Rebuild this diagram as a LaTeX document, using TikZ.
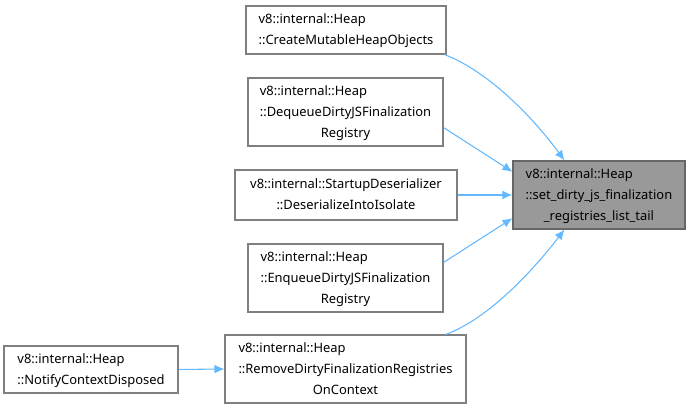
\documentclass[tikz,border=0pt]{standalone}
\usepackage{fontspec}
\setmainfont{Noto Sans}
\usepackage{tikz}
\usetikzlibrary{arrows.meta, positioning}
\definecolor{edgeblue}{HTML}{63B8FF}
\definecolor{boxgray}{HTML}{7F7F7F}
\definecolor{hlgray}{HTML}{999999}
\newcommand{\fnlabel}[1]{\begin{tabular}{@{}l@{}}#1\end{tabular}}
\newcommand{\lastc}[1]{\multicolumn{1}{@{}c@{}}{#1}}

\begin{document}
\begin{tikzpicture}[x=0.75pt, y=-0.75pt,
  fn/.style={draw=boxgray, fill=white, inner sep=0pt, line width=0.8pt,
             font=\fontsize{9.7pt}{15.75pt}\selectfont},
  call/.style={edgeblue, line width=0.8pt, -{Latex[length=7.5pt,width=6.5pt]}}]
  \useasboundingbox (0,0) rectangle (690,409);
  % the function whose callers are shown
  \node[fn, fill=hlgray, draw=boxgray!80!black, minimum width=129pt, minimum height=51pt]
      (target) at (599,195)
      {\fnlabel{v8::internal::Heap\\::set\_dirty\_js\_finalization\\\lastc{\_registries\_list\_tail}}};
  % callers
  \node[fn, minimum width=150pt, minimum height=36pt] (create) at (346,30)
      {\fnlabel{v8::internal::Heap\\\lastc{::CreateMutableHeapObjects}}};
  \node[fn, minimum width=146.25pt, minimum height=51pt] (dequeue) at (345.5,112)
      {\fnlabel{v8::internal::Heap\\::DequeueDirtyJSFinalization\\\lastc{Registry}}};
  \node[fn, minimum width=166.5pt, minimum height=37.5pt] (startup) at (346,195)
      {\fnlabel{v8::internal::StartupDeserializer\\\lastc{::DeserializeIntoIsolate}}};
  \node[fn, minimum width=146.25pt, minimum height=51pt] (enqueue) at (345.5,278)
      {\fnlabel{v8::internal::Heap\\::EnqueueDirtyJSFinalization\\\lastc{Registry}}};
  \node[fn, minimum width=180.75pt, minimum height=51pt] (remove) at (345.5,369)
      {\fnlabel{v8::internal::Heap\\::RemoveDirtyFinalizationRegistries\\\lastc{OnContext}}};
  \node[fn, minimum width=130.5pt, minimum height=35.25pt] (notify) at (91,369.5)
      {\fnlabel{v8::internal::Heap\\\lastc{::NotifyContextDisposed}}};
  % call edges
  \draw[call] (create.-14) .. controls (490,72) and (535,120) .. (target.135);
  \draw[call] (dequeue.-9) -- (target.165);
  \draw[call] (startup.east) -- (target.west);
  \draw[call] (enqueue.9) -- (target.-165);
  \draw[call] (remove.19) .. controls (490,318) and (535,268) .. (target.-135);
  \draw[call] (notify.east) -- (remove.west);
\end{tikzpicture}
\end{document}
